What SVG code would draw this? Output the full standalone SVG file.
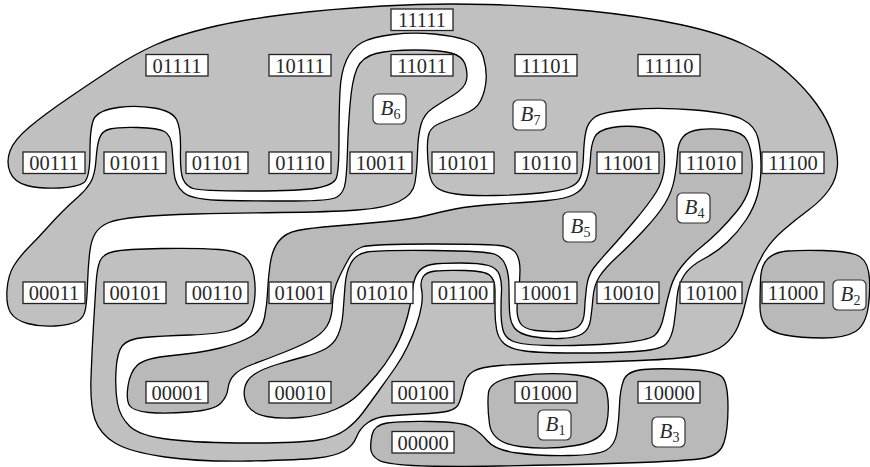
<svg xmlns="http://www.w3.org/2000/svg" width="870" height="467" viewBox="0 0 870 467">
<style>
.blob{stroke:#000;stroke-width:1.3;stroke-linejoin:round}
.l{fill:#c0c0c0}
.d{fill:#b9b9b9}
.nb{fill:#fff;stroke:#222;stroke-width:1.3}
.nt{font-family:"Liberation Serif",serif;font-size:20.5px;fill:#2a2a2a;text-anchor:middle}
.lb{fill:#fff;stroke:#333;stroke-width:1.2}
.lt{font-family:"Liberation Serif",serif;font-size:21px;font-style:italic;fill:#2a2a2a;text-anchor:middle}
.sub{font-style:normal;font-size:14px}
</style>
<rect width="870" height="467" fill="#fff"/>
<g id="block-B7">
<path class="blob l" d="M10,172 Q6,162 10,151 Q14,140 29.5,127 Q45,114 70,97 Q95,80 115,67 Q135,54 155,45 Q175,36 207.5,28 Q240,20 285,14.5 Q330,9 382.5,6 Q435,3 487.5,4.5 Q540,6 590,11 Q640,16 680,24.5 Q720,33 745,45 Q770,57 787.5,72.5 Q805,88 816.5,104 Q828,120 833,136 Q838,152 837.5,165 Q837,178 829.5,189 Q822,200 808.5,210 Q795,220 783.5,230 Q772,240 765,251 Q758,262 753,276 Q748,290 745.5,302.5 Q743,315 738,326.5 Q733,338 724,345 Q715,352 697.5,355.5 Q680,359 640,360.5 Q600,362 560,363 Q520,364 500,365.5 Q480,367 473,371.5 Q466,376 464,385.5 Q462,395 459.5,402 Q457,409 448.5,411 Q440,413 420,414 Q400,415 388,416 Q376,417 368,422.5 Q360,428 356.5,437 Q353,446 344,451 Q335,456 317.5,458 Q300,460 250,461 Q200,462 165,457 Q130,452 115,443 Q100,434 95,419.5 Q90,405 91,377.5 Q92,350 93.5,325 Q95,300 96,284 Q97,268 100,261 Q103,254 114,251.5 Q125,249 162.5,248.5 Q200,248 219,249.5 Q238,251 245,257 Q252,263 254,275.5 Q256,288 254.5,300 Q253,312 248,319 Q243,326 231.5,330 Q220,334 190,335 Q160,336 144,337.5 Q128,339 122.5,345.5 Q117,352 116,371 Q115,390 117.5,403.5 Q120,417 130,426.5 Q140,436 170,439.5 Q200,443 250,443 Q300,443 318,440 Q336,437 346,429.5 Q356,422 363,412.5 Q370,403 379,390.5 Q388,378 395,368 Q402,358 407.5,346.5 Q413,335 416.5,325 Q420,315 421.5,305.5 Q423,296 421.5,289 Q420,282 423,277 Q426,272 435.5,271 Q445,270 465,270.5 Q485,271 490,275.5 Q495,280 495,290 Q495,300 495,310 Q495,320 496.5,329 Q498,338 504,343.5 Q510,349 525,351 Q540,353 575,353 Q610,353 635,351.5 Q660,350 666,344 Q672,338 674,324 Q676,310 677,297.5 Q678,285 684,275.5 Q690,266 703.5,259 Q717,252 727.5,242 Q738,232 746,220 Q754,208 757.5,195 Q761,182 761,166 Q761,150 758,138 Q755,126 742.5,119.5 Q730,113 695,110 Q660,107 631,109.5 Q602,112 595,117 Q588,122 586,131 Q584,140 583.5,155 Q583,170 580.5,177 Q578,184 569,187.5 Q560,191 540,193 Q520,195 495,195.5 Q470,196 456,194 Q442,192 436.5,187.5 Q431,183 429.5,174 Q428,165 427.5,152.5 Q427,140 429,133.5 Q431,127 440.5,123 Q450,119 463,114.5 Q476,110 480.5,101 Q485,92 486,81 Q487,70 483.5,57.5 Q480,45 467.5,40.5 Q455,36 434,34 Q413,32 392.5,34.5 Q372,37 362,42.5 Q352,48 346.5,60 Q341,72 340,91 Q339,110 339,140 Q339,170 336.5,177.5 Q334,185 317,188 Q300,191 250,191 Q200,191 193,188.5 Q186,186 183,179 Q180,172 180.5,150 Q181,128 176.5,119.5 Q172,111 154,108 Q136,105 118,107.5 Q100,110 95,117 Q90,124 90,151 Q90,178 84,182.5 Q78,187 59,188 Q40,189 27,185.5 Q14,182 10,172 Z"/>
<rect class="lb" x="513" y="100" width="33" height="30" rx="5"/>
<text class="lt" x="530.5" y="121">B<tspan class="sub" dy="4">7</tspan></text>
</g>
<g id="block-B6">
<path class="blob l" d="M10.5,312.5 Q6,305 7,290 Q8,275 14,265.5 Q20,256 29,247 Q38,238 46.5,228.5 Q55,219 62.5,211.5 Q70,204 78,197 Q86,190 90.5,182.5 Q95,175 96,160 Q97,145 99.5,138 Q102,131 110,129 Q118,127 138,127.5 Q158,128 164.5,131.5 Q171,135 172,147.5 Q173,160 174,172.5 Q175,185 183.5,192.5 Q192,200 226,200.5 Q260,201 295,201 Q330,201 337,197 Q344,193 345.5,181.5 Q347,170 347.5,150 Q348,130 350,105 Q352,80 357,68.5 Q362,57 376,53.5 Q390,50 415,50 Q440,50 451,53 Q462,56 465,64 Q468,72 466.5,80 Q465,88 453.5,95 Q442,102 433,108 Q424,114 421,124.5 Q418,135 417.5,152.5 Q417,170 415,182.5 Q413,195 399,201.5 Q385,208 357.5,210 Q330,212 280,212.5 Q230,213 195,214 Q160,215 139,217 Q118,219 109,222.5 Q100,226 95.5,233 Q91,240 89.5,254 Q88,268 87.5,284 Q87,300 85.5,309 Q84,318 77,321.5 Q70,325 55,326 Q40,327 27.5,323.5 Q15,320 10.5,312.5 Z"/>
<rect class="lb" x="373" y="94" width="33" height="30" rx="5"/>
<text class="lt" x="390.5" y="115">B<tspan class="sub" dy="4">6</tspan></text>
</g>
<g id="block-B5">
<path class="blob d" d="M129.5,405.5 Q126,400 128,386 Q130,372 137.5,365 Q145,358 172.5,355.5 Q200,353 220,348 Q240,343 251,336.5 Q262,330 264.5,317.5 Q267,305 267.5,292.5 Q268,280 270,265 Q272,250 278.5,241.5 Q285,233 297.5,230.5 Q310,228 335,226 Q360,224 386.5,221.5 Q413,219 426.5,215.5 Q440,212 455,209 Q470,206 500,204 Q530,202 547.5,200.5 Q565,199 574,194.5 Q583,190 586.5,180 Q590,170 590.5,157.5 Q591,145 594.5,137.5 Q598,130 612.5,127.5 Q627,125 642.5,127.5 Q658,130 661.5,139 Q665,148 664.5,164 Q664,180 656,192.5 Q648,205 634,221.5 Q620,238 610,249 Q600,260 594,267.5 Q588,275 586.5,287.5 Q585,300 584.5,311 Q584,322 578.5,326.5 Q573,331 560,331.5 Q547,332 535.5,330.5 Q524,329 520.5,323.5 Q517,318 517,309 Q517,300 518.5,290 Q520,280 520,270 Q520,260 516.5,254 Q513,248 503,246 Q493,244 431.5,244 Q370,244 362,247 Q354,250 349.5,257.5 Q345,265 339,277.5 Q333,290 332.5,304 Q332,318 327,326 Q322,334 311,340 Q300,346 283.5,352.5 Q267,359 253.5,364 Q240,369 234.5,374.5 Q229,380 228,388.5 Q227,397 220.5,403.5 Q214,410 189.5,412 Q165,414 149,412.5 Q133,411 129.5,405.5 Z"/>
<rect class="lb" x="563" y="212" width="33" height="30" rx="5"/>
<text class="lt" x="580.5" y="233">B<tspan class="sub" dy="4">5</tspan></text>
</g>
<g id="block-B4">
<path class="blob d" d="M248,406 Q243,398 244.5,389 Q246,380 254,374.5 Q262,369 277,364.5 Q292,360 305,356.5 Q318,353 326,348.5 Q334,344 338,335 Q342,326 343,313 Q344,300 345,286 Q346,272 351,263 Q356,254 367,252 Q378,250 433,250.5 Q488,251 495.5,254.5 Q503,258 506,266.5 Q509,275 509,287.5 Q509,300 509.5,311 Q510,322 514.5,328 Q519,334 532,336.5 Q545,339 560,338.5 Q575,338 582,334 Q589,330 590.5,320 Q592,310 593,297.5 Q594,285 599.5,276.5 Q605,268 617.5,256.5 Q630,245 644,230 Q658,215 665,203.5 Q672,192 674.5,178.5 Q677,165 677.5,154 Q678,143 683,137 Q688,131 700,129.5 Q712,128 727,130 Q742,132 746.5,139.5 Q751,147 752,161 Q753,175 749.5,187.5 Q746,200 737,211 Q728,222 719,231 Q710,240 700,248 Q690,256 682,266 Q674,276 670.5,288 Q667,300 664,315 Q661,330 654.5,335.5 Q648,341 614,343.5 Q580,346 551,345.5 Q522,345 513.5,341.5 Q505,338 503,330 Q501,322 501,311 Q501,300 501.5,291 Q502,282 499.5,275 Q497,268 488.5,265.5 Q480,263 460,263 Q440,263 431.5,264.5 Q423,266 418.5,272 Q414,278 413,287 Q412,296 410,306 Q408,316 404,328 Q400,340 392.5,352.5 Q385,365 376.5,375 Q368,385 359,394 Q350,403 335,409.5 Q320,416 300,417.5 Q280,419 266.5,416.5 Q253,414 248,406 Z"/>
<rect class="lb" x="677" y="193" width="33" height="30" rx="5"/>
<text class="lt" x="694.5" y="214">B<tspan class="sub" dy="4">4</tspan></text>
</g>
<g id="block-B3">
<path class="blob d" d="M371,450.5 Q370,445 372,435 Q374,425 387,423 Q400,421 431,421.5 Q462,422 471,427 Q480,432 487.5,441 Q495,450 517.5,453 Q540,456 569,455.5 Q598,455 606.5,450 Q615,445 617,432.5 Q619,420 619.5,405 Q620,390 623.5,380.5 Q627,371 643.5,369.5 Q660,368 689,369.5 Q718,371 723,378 Q728,385 728,407.5 Q728,430 724,442.5 Q720,455 705,458 Q690,461 625,463 Q560,465 500,466 Q440,467 412.5,465.5 Q385,464 378.5,460 Q372,456 371,450.5 Z"/>
<rect class="lb" x="652" y="417" width="33" height="30" rx="5"/>
<text class="lt" x="669.5" y="438">B<tspan class="sub" dy="4">3</tspan></text>
</g>
<g id="block-B2">
<path class="blob d" d="M760,306.5 Q760,295 760.5,280 Q761,265 768,258.5 Q775,252 787.5,251 Q800,250 822.5,250.5 Q845,251 855.5,254.5 Q866,258 868.5,271.5 Q871,285 868.5,305 Q866,325 855.5,331.5 Q845,338 822.5,338 Q800,338 785,335 Q770,332 765,325 Q760,318 760,306.5 Z"/>
<rect class="lb" x="833" y="280" width="33" height="30" rx="5"/>
<text class="lt" x="850.5" y="301">B<tspan class="sub" dy="4">2</tspan></text>
</g>
<g id="block-B1">
<path class="blob d" d="M489.5,424 Q487,405 488.5,392.5 Q490,380 519,376 Q548,372 576,375 Q604,378 607,393 Q610,408 606.5,424.5 Q603,441 575.5,445.5 Q548,450 520,446.5 Q492,443 489.5,424 Z"/>
<rect class="lb" x="538" y="410" width="33" height="30" rx="5"/>
<text class="lt" x="555.5" y="431">B<tspan class="sub" dy="4">1</tspan></text>
</g>
<g id="connectors"/>
<g id="n11111"><rect class="nb" x="391" y="9" width="62" height="21.5"/><text class="nt" x="422" y="27.2">11111</text></g>
<g id="n01111"><rect class="nb" x="146" y="54.5" width="62" height="21.5"/><text class="nt" x="177" y="72.7">01111</text></g>
<g id="n10111"><rect class="nb" x="269" y="54.5" width="62" height="21.5"/><text class="nt" x="300" y="72.7">10111</text></g>
<g id="n11011"><rect class="nb" x="391" y="54.5" width="62" height="21.5"/><text class="nt" x="422" y="72.7">11011</text></g>
<g id="n11101"><rect class="nb" x="515" y="54.5" width="62" height="21.5"/><text class="nt" x="546" y="72.7">11101</text></g>
<g id="n11110"><rect class="nb" x="638" y="54.5" width="62" height="21.5"/><text class="nt" x="669" y="72.7">11110</text></g>
<g id="n00111"><rect class="nb" x="23" y="152" width="62" height="21.5"/><text class="nt" x="54" y="170.2">00111</text></g>
<g id="n01011"><rect class="nb" x="104" y="152" width="62" height="21.5"/><text class="nt" x="135" y="170.2">01011</text></g>
<g id="n01101"><rect class="nb" x="186" y="152" width="62" height="21.5"/><text class="nt" x="217" y="170.2">01101</text></g>
<g id="n01110"><rect class="nb" x="269" y="152" width="62" height="21.5"/><text class="nt" x="300" y="170.2">01110</text></g>
<g id="n10011"><rect class="nb" x="350" y="152" width="62" height="21.5"/><text class="nt" x="381" y="170.2">10011</text></g>
<g id="n10101"><rect class="nb" x="432" y="152" width="62" height="21.5"/><text class="nt" x="463" y="170.2">10101</text></g>
<g id="n10110"><rect class="nb" x="515" y="152" width="62" height="21.5"/><text class="nt" x="546" y="170.2">10110</text></g>
<g id="n11001"><rect class="nb" x="597" y="152" width="62" height="21.5"/><text class="nt" x="628" y="170.2">11001</text></g>
<g id="n11010"><rect class="nb" x="680" y="152" width="62" height="21.5"/><text class="nt" x="711" y="170.2">11010</text></g>
<g id="n11100"><rect class="nb" x="762" y="152" width="62" height="21.5"/><text class="nt" x="793" y="170.2">11100</text></g>
<g id="n00011"><rect class="nb" x="23" y="282" width="62" height="21.5"/><text class="nt" x="54" y="300.2">00011</text></g>
<g id="n00101"><rect class="nb" x="104" y="282" width="62" height="21.5"/><text class="nt" x="135" y="300.2">00101</text></g>
<g id="n00110"><rect class="nb" x="186" y="282" width="62" height="21.5"/><text class="nt" x="217" y="300.2">00110</text></g>
<g id="n01001"><rect class="nb" x="269" y="282" width="62" height="21.5"/><text class="nt" x="300" y="300.2">01001</text></g>
<g id="n01010"><rect class="nb" x="351" y="282" width="62" height="21.5"/><text class="nt" x="382" y="300.2">01010</text></g>
<g id="n01100"><rect class="nb" x="432" y="282" width="62" height="21.5"/><text class="nt" x="463" y="300.2">01100</text></g>
<g id="n10001"><rect class="nb" x="515" y="282" width="62" height="21.5"/><text class="nt" x="546" y="300.2">10001</text></g>
<g id="n10010"><rect class="nb" x="597" y="282" width="62" height="21.5"/><text class="nt" x="628" y="300.2">10010</text></g>
<g id="n10100"><rect class="nb" x="680" y="282" width="62" height="21.5"/><text class="nt" x="711" y="300.2">10100</text></g>
<g id="n11000"><rect class="nb" x="762" y="282" width="62" height="21.5"/><text class="nt" x="793" y="300.2">11000</text></g>
<g id="n00001"><rect class="nb" x="146" y="381.5" width="62" height="21.5"/><text class="nt" x="177" y="399.7">00001</text></g>
<g id="n00010"><rect class="nb" x="269" y="381.5" width="62" height="21.5"/><text class="nt" x="300" y="399.7">00010</text></g>
<g id="n00100"><rect class="nb" x="392" y="381.5" width="62" height="21.5"/><text class="nt" x="423" y="399.7">00100</text></g>
<g id="n01000"><rect class="nb" x="515" y="381.5" width="62" height="21.5"/><text class="nt" x="546" y="399.7">01000</text></g>
<g id="n10000"><rect class="nb" x="638" y="381.5" width="62" height="21.5"/><text class="nt" x="669" y="399.7">10000</text></g>
<g id="n00000"><rect class="nb" x="392" y="431.5" width="62" height="21.5"/><text class="nt" x="423" y="449.7">00000</text></g>
</svg>
